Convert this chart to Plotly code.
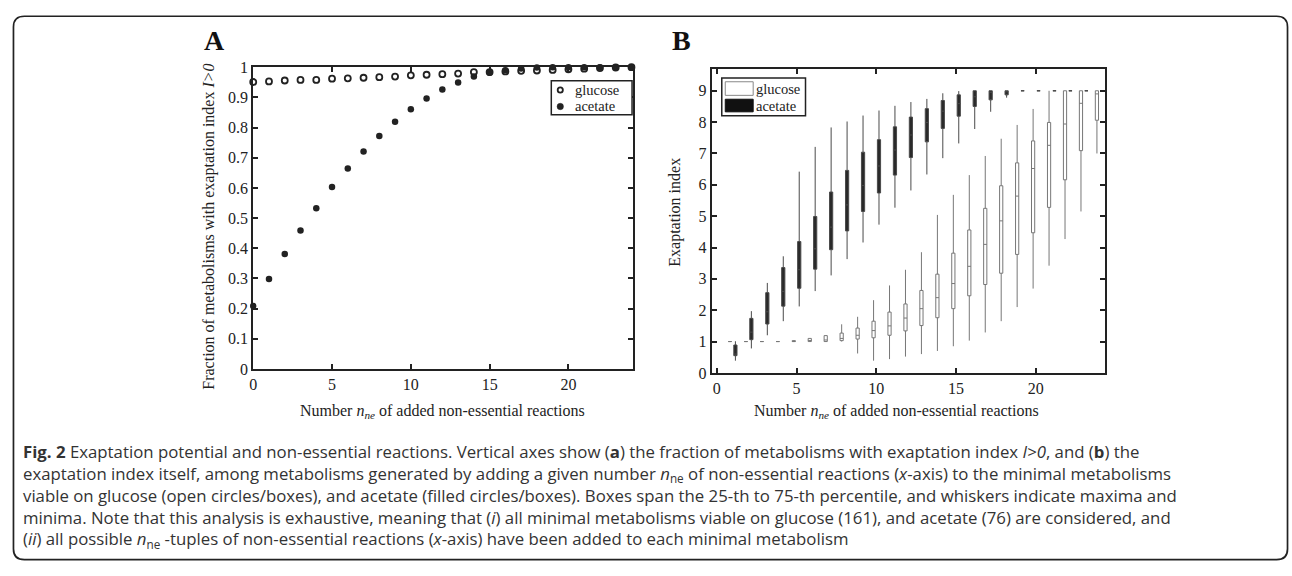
import plotly.graph_objects as go

W, H = 1292, 576

# ---------------- Panel A data ----------------
n_added_a = list(range(0, 25))
glucose_frac = [0.951, 0.953, 0.956, 0.958, 0.958, 0.962, 0.963, 0.965, 0.967, 0.969,
                0.973, 0.975, 0.977, 0.979, 0.984, 0.984, 0.986, 0.988, 0.989, 0.991,
                0.993, 0.995, 0.997, 0.999, 1.0]
acetate_frac = [0.209, 0.298, 0.381, 0.459, 0.533, 0.603, 0.664, 0.721, 0.772, 0.819,
                0.861, 0.896, 0.926, 0.949, 0.969, 0.982, 0.990, 0.996, 0.999, 1.0,
                1.0, 1.0, 1.0, 1.0, 1.0]

# ---------------- Panel B data ----------------
n_added_b = list(range(1, 25))
glc_low = [1.0, 1.0, 1.0, 1.0, 1.0, 1.0, 1.0, 1.0, 0.62, 0.39, 0.44, 0.52, 0.60, 0.70,
           0.85, 1.03, 1.29, 1.65, 2.10, 2.69, 3.42, 4.27, 5.15, 7.0]
glc_q1 = [1.0, 1.0, 1.0, 1.0, 1.0, 1.0, 1.0, 1.03, 1.08, 1.12, 1.20, 1.34, 1.51, 1.76,
          2.05, 2.46, 2.82, 3.18, 3.78, 4.47, 5.28, 6.16, 7.09, 8.06]
glc_med = [1.0, 1.0, 1.0, 1.0, 1.0, 1.0, 1.05, 1.1, 1.2, 1.35, 1.5, 1.75, 2.05, 2.4,
           2.85, 3.4, 4.1, 4.85, 5.64, 6.52, 7.26, 7.94, 8.6, 8.9]
glc_q3 = [1.0, 1.0, 1.0, 1.0, 1.03, 1.10, 1.19, 1.27, 1.43, 1.65, 1.94, 2.20, 2.63, 3.15,
          3.82, 4.56, 5.25, 5.97, 6.70, 7.40, 7.99, 9.0, 9.0, 9.0]
glc_high = [1.0, 1.0, 1.0, 1.0, 1.03, 1.10, 1.19, 1.55, 1.79, 2.32, 2.79, 3.29, 3.85, 5.04,
            5.68, 6.31, 6.92, 7.47, 7.91, 8.42, 9.0, 9.0, 9.0, 9.0]

ace_low = [0.39, 0.78, 1.20, 1.65, 2.12, 2.61, 3.11, 3.63, 4.16, 4.73, 5.27, 5.82, 6.33,
           6.85, 7.32, 7.78, 8.33, 8.78, 9.0, 9.0, 9.0, 9.0, 9.0, 9.0]
ace_q1 = [0.55, 1.06, 1.56, 2.13, 2.70, 3.31, 3.93, 4.53, 5.15, 5.74, 6.31, 6.87, 7.37,
          7.80, 8.19, 8.50, 8.71, 8.87, 9.0, 9.0, 9.0, 9.0, 9.0, 9.0]
ace_med = [0.60, 1.30, 1.95, 2.60, 3.29, 3.96, 4.65, 5.36, 5.98, 6.60, 7.11, 7.59, 7.99,
           8.35, 8.59, 8.81, 8.95, 9.0, 9.0, 9.0, 9.0, 9.0, 9.0, 9.0]
ace_q3 = [0.89, 1.74, 2.56, 3.36, 4.19, 4.99, 5.77, 6.46, 7.04, 7.44, 7.85, 8.16, 8.43,
          8.69, 8.87, 9.0, 9.0, 9.0, 9.0, 9.0, 9.0, 9.0, 9.0, 9.0]
ace_high = [1.01, 1.97, 2.87, 3.72, 6.42, 7.21, 7.83, 8.02, 8.21, 8.37, 8.52, 8.64, 8.74,
            8.92, 8.99, 9.0, 9.0, 9.0, 9.0, 9.0, 9.0, 9.0, 9.0, 9.0]

x_ticks = [0, 5, 10, 15, 20]
series_names = ["glucose", "acetate"]

SERIF = "Liberation Serif"
INK = "#222222"


def px(xp):
    return xp / W


def py(yp):
    return 1 - yp / H


fig = go.Figure()

# Panel A scatter
fig.add_trace(go.Scatter(
    x=n_added_a, y=glucose_frac, mode="markers", name=series_names[0],
    marker=dict(symbol="circle-open", size=6, color=INK, line=dict(width=1.8, color=INK)),
    cliponaxis=False, xaxis="x", yaxis="y", showlegend=False))
fig.add_trace(go.Scatter(
    x=n_added_a, y=acetate_frac, mode="markers", name=series_names[1],
    marker=dict(symbol="circle", size=6.5, color=INK),
    cliponaxis=False, xaxis="x", yaxis="y", showlegend=False))

# Panel B boxes
fig.add_trace(go.Box(
    x=n_added_b, q1=glc_q1, median=glc_med, q3=glc_q3,
    lowerfence=glc_low, upperfence=glc_high, name=series_names[0],
    fillcolor="white", line=dict(color="#777777", width=1), whiskerwidth=0,
    boxpoints=False, showlegend=False, xaxis="x2", yaxis="y2"))
fig.add_trace(go.Box(
    x=n_added_b, q1=ace_q1, median=ace_med, q3=ace_q3,
    lowerfence=ace_low, upperfence=ace_high, name=series_names[1],
    fillcolor="#2a2a2a", line=dict(color="#4a4a4a", width=1), whiskerwidth=0,
    boxpoints=False, showlegend=False, xaxis="x2", yaxis="y2"))

axis_common = dict(
    showline=True, linecolor=INK, linewidth=2, mirror="ticks",
    ticks="inside", ticklen=5, tickwidth=1.5, tickcolor=INK,
    showgrid=False, zeroline=False,
    tickfont=dict(family=SERIF, size=16, color=INK),
)

fig.update_layout(
    width=W, height=H, autosize=False,
    margin=dict(l=0, r=0, t=0, b=0),
    paper_bgcolor="white", plot_bgcolor="white",
    boxmode="group", boxgap=0.32, boxgroupgap=0.41,
    xaxis=dict(domain=[px(250), px(631)], range=[0, 24.1], tickvals=x_ticks,
               anchor="y", **axis_common),
    yaxis=dict(domain=[py(372), py(61)], range=[0, 1], dtick=0.1,
               anchor="x", **axis_common),
    xaxis2=dict(domain=[px(710), px(1104)], range=[-0.31, 24.31], tickvals=x_ticks,
                anchor="y2", **axis_common),
    yaxis2=dict(domain=[py(376), py(63)], range=[0, 9.69], dtick=1,
                anchor="x2", **axis_common),
    showlegend=False,
)

annotations = []
title_font = dict(family=SERIF, size=16, color=INK)
legend_font = dict(family=SERIF, size=14.5, color=INK)
# Panel letters
annotations.append(dict(text="<b>A</b>", x=px(211), y=py(34), xref="paper", yref="paper",
                        showarrow=False, font=dict(family=SERIF, size=28, color="#111"),
                        xanchor="center", yanchor="middle"))
annotations.append(dict(text="<b>B</b>", x=px(680), y=py(34), xref="paper", yref="paper",
                        showarrow=False, font=dict(family=SERIF, size=28, color="#111"),
                        xanchor="center", yanchor="middle"))
# Axis titles
xtitle = "Number <i>n</i><sub><i>ne</i></sub> of added non-essential reactions"
annotations.append(dict(text=xtitle, x=px(440), y=py(416), xref="paper", yref="paper",
                        showarrow=False, font=title_font, xanchor="center", yanchor="middle"))
annotations.append(dict(text=xtitle, x=px(895), y=py(416), xref="paper", yref="paper",
                        showarrow=False, font=title_font, xanchor="center", yanchor="middle"))
annotations.append(dict(text="Fraction of metabolisms with exaptation index <i>I&gt;0</i>",
                        x=px(206), y=py(225), xref="paper", yref="paper", textangle=-90,
                        showarrow=False, font=title_font, xanchor="center", yanchor="middle"))
annotations.append(dict(text="Exaptation index",
                        x=px(673), y=py(210), xref="paper", yref="paper", textangle=-90,
                        showarrow=False, font=title_font, xanchor="center", yanchor="middle"))
# Legend labels (panel A)
annotations.append(dict(text=series_names[0], x=px(571), y=py(84), xref="paper", yref="paper",
                        showarrow=False, font=legend_font, xanchor="left", yanchor="middle"))
annotations.append(dict(text=series_names[1], x=px(571), y=py(101), xref="paper", yref="paper",
                        showarrow=False, font=legend_font, xanchor="left", yanchor="middle"))
# Legend labels (panel B)
annotations.append(dict(text=series_names[0], x=px(752), y=py(83), xref="paper", yref="paper",
                        showarrow=False, font=legend_font, xanchor="left", yanchor="middle"))
annotations.append(dict(text=series_names[1], x=px(752), y=py(100.5), xref="paper", yref="paper",
                        showarrow=False, font=legend_font, xanchor="left", yanchor="middle"))

# Caption (one multi-line text block)
caption_lines = [
    "<b>Fig. 2</b> Exaptation potential and non-essential reactions. Vertical axes show (<b>a</b>) the fraction of metabolisms with exaptation index <i>I&gt;0</i>, and (<b>b</b>) the",
    "exaptation index itself, among metabolisms generated by adding a given number <i>n</i><sub>ne</sub> of non-essential reactions (<i>x</i>-axis) to the minimal metabolisms",
    "viable on glucose (open circles/boxes), and acetate (filled circles/boxes). Boxes span the 25-th to 75-th percentile, and whiskers indicate maxima and",
    "minima. Note that this analysis is exhaustive, meaning that (<i>i</i>) all minimal metabolisms viable on glucose (161), and acetate (76) are considered, and",
    "(<i>ii</i>) all possible <i>n</i><sub>ne</sub> -tuples of non-essential reactions (<i>x</i>-axis) have been added to each minimal metabolism",
]
annotations.append(dict(text="<br>".join(caption_lines), x=px(17), y=py(503), xref="paper", yref="paper",
                        showarrow=False, xanchor="left", yanchor="middle", align="left",
                        font=dict(family="Open Sans", size=16.8, color="#333333")))

fig.update_layout(annotations=annotations)

# Shapes: legends, outer rounded border
shapes = []
# Panel A legend
shapes.append(dict(type="rect", xref="paper", yref="paper",
                   x0=px(549), x1=px(630), y0=py(110), y1=py(75),
                   line=dict(color=INK, width=1.5), fillcolor="white", layer="above"))
shapes.append(dict(type="circle", xref="paper", yref="paper", xsizemode="pixel", ysizemode="pixel",
                   xanchor=px(558), yanchor=py(84.5), x0=-2.6, x1=2.6, y0=-2.6, y1=2.6,
                   line=dict(color=INK, width=1.8), fillcolor="white", layer="above"))
shapes.append(dict(type="circle", xref="paper", yref="paper", xsizemode="pixel", ysizemode="pixel",
                   xanchor=px(558), yanchor=py(101.5), x0=-3.2, x1=3.2, y0=-3.2, y1=3.2,
                   line=dict(color=INK, width=0.5), fillcolor=INK, layer="above"))
# Panel B legend
shapes.append(dict(type="rect", xref="paper", yref="paper",
                   x0=px(720), x1=px(804), y0=py(111), y1=py(72),
                   line=dict(color=INK, width=1.5), fillcolor="white", layer="above"))
shapes.append(dict(type="rect", xref="paper", yref="paper",
                   x0=px(723.5), x1=px(751.5), y0=py(90), y1=py(76),
                   line=dict(color="#888888", width=1), fillcolor="white", layer="above"))
shapes.append(dict(type="rect", xref="paper", yref="paper",
                   x0=px(723.5), x1=px(751.5), y0=py(107), y1=py(94),
                   line=dict(color="#111111", width=1), fillcolor="#111111", layer="above"))


def P(xp, yp):
    return f"{px(xp):.5f},{py(yp):.5f}"


bx0, by0, bx1, by1, r = 9.5, 8.5, 1287.5, 568.5, 11
border = (f"M {P(bx0 + r, by0)} L {P(bx1 - r, by0)} Q {P(bx1, by0)} {P(bx1, by0 + r)} "
          f"L {P(bx1, by1 - r)} Q {P(bx1, by1)} {P(bx1 - r, by1)} "
          f"L {P(bx0 + r, by1)} Q {P(bx0, by1)} {P(bx0, by1 - r)} "
          f"L {P(bx0, by0 + r)} Q {P(bx0, by0)} {P(bx0 + r, by0)} Z")
shapes.append(dict(type="path", path=border, xref="paper", yref="paper",
                   line=dict(color="#222222", width=1.7)))
fig.update_layout(shapes=shapes)

fig.write_html("out.html")
